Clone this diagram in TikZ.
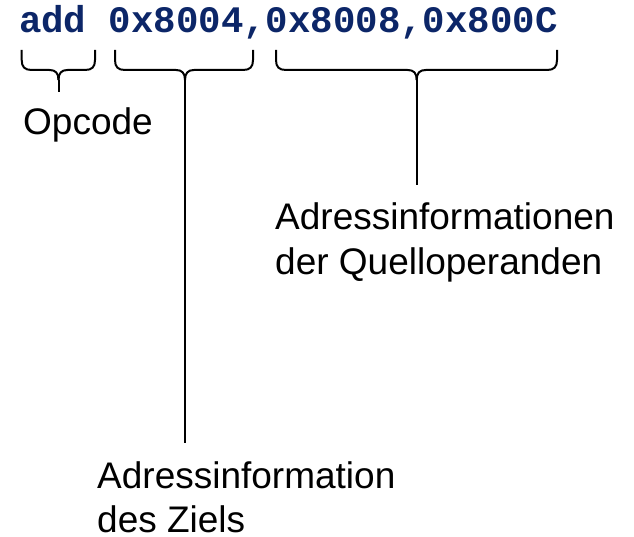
\documentclass[tikz,border=0pt]{standalone}
\usepackage{fontspec}
\setmainfont{Liberation Sans}
\newfontfamily\codefont{Liberation Mono}
\definecolor{codeblue}{RGB}{12,38,104}

% curly brace opening downwards: #1 left end, #2 cusp, #3 right end, #4 name of the cusp
\newcommand{\codebrace}[4]{%
  \draw[bracepath] (#1,50) -- (#1,60)
    .. controls (#1,67) and (#1+3,70) .. (#1+10,70) -- (#2-9,70)
    .. controls (#2-3,70) and (#2,73) .. (#2,80);
  \draw[bracepath] (#3,50) -- (#3,60)
    .. controls (#3,67) and (#3-3,70) .. (#3-10,70) -- (#2+9,70)
    .. controls (#2+3,70) and (#2,73) .. (#2,80);
  \coordinate (#4) at (#2,80);
}

\begin{document}
\begin{tikzpicture}[x=1pt,y=-1pt,
  codetext/.style={inner sep=0pt,font=\codefont\bfseries\fontsize{37.4}{40}\selectfont,text=codeblue},
  caption/.style={inner sep=0pt,font=\fontsize{37}{44}\selectfont,align=left},
  bracepath/.style={line width=2pt,line join=round,line cap=butt},
  stem/.style={line width=2pt}]
\useasboundingbox (0,0) rectangle (634,537);

% instruction
\node[codetext,anchor=base] (instr) at (288.4,33) {add 0x8004,0x8008,0x800C};

% braces below the three fields
\codebrace{21.7}{58.5}{95}{opTip}
\codebrace{115}{185}{253}{destTip}
\codebrace{276}{416.7}{557}{srcTip}

% captions (base anchor of a two-line node sits on its last line)
\node[caption,anchor=base west] (opcode) at (23,135) {Opcode};
\node[caption,anchor=base west] (src) at (275,274) {Adressinformationen\\der Quelloperanden};
\node[caption,anchor=base west] (dest) at (97,532.5) {Adressinformation\\des Ziels};

% stems from the braces down to the captions
\coordinate (opEnd) at (58.5,92);
\coordinate (srcEnd) at (416.7,185);
\coordinate (destEnd) at (185,443);
\draw[stem] (opTip) -- (opEnd);
\draw[stem] (srcTip) -- (srcEnd);
\draw[stem] (destTip) -- (destEnd);
\end{tikzpicture}
\end{document}
